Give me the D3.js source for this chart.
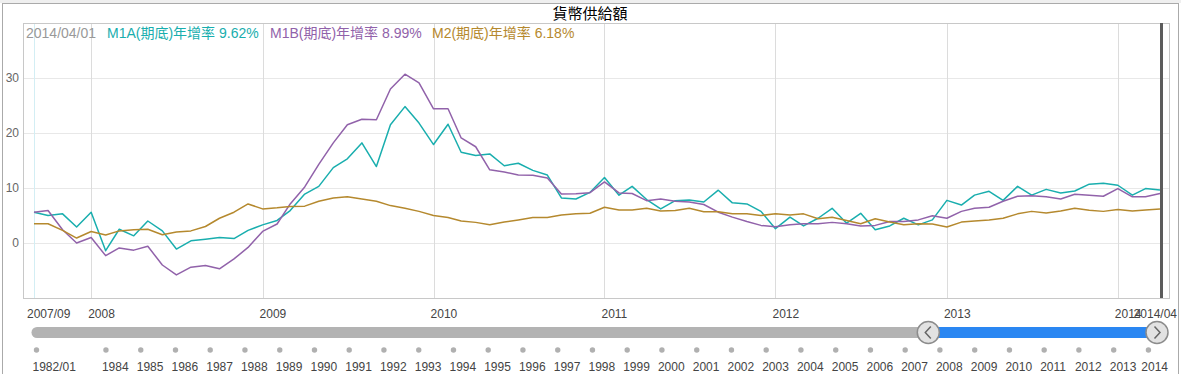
<!DOCTYPE html>
<html>
<head>
<meta charset="utf-8">
<script src="https://cdn.jsdelivr.net/npm/d3@7"></script>
<style>
body { margin: 0; background: #fff; }
text { font-family: "Liberation Sans", Arial, "Noto Sans CJK TC", sans-serif; }
</style>
</head>
<body>
<script>
// monthly series, 2007/09 .. 2014/04
var firstMonth = "2007-09-01";

var m1a = [5.6, 5.0, 5.3, 2.9,
    5.6, -1.4, 2.5, 1.3, 4.0, 2.2, -1.1, 0.4, 0.7, 1.0, 0.8, 2.3,
    3.3, 4.1, 5.9, 8.9, 10.3, 13.7, 15.3, 18.2, 13.9, 21.5, 24.8, 21.8,
    17.9, 21.6, 16.5, 15.9, 16.2, 14.05, 14.5, 13.2, 12.35, 8.2, 8.0, 9.2,
    11.9, 8.7, 10.3, 7.9, 6.2, 7.7, 7.8, 7.45, 9.6, 7.3, 7.1, 5.75,
    2.6, 4.7, 3.1, 4.5, 6.3, 3.6, 5.4, 2.4, 3.1, 4.5, 3.3, 4.2,
    7.75, 6.9, 8.7, 9.4, 7.75, 10.3, 8.7, 9.75, 9.1, 9.45, 10.7, 10.85,
    10.5, 8.7, 9.9, 9.62];

var m1b = [5.6, 5.9, 2.4, 0.0,
    1.0, -2.3, -0.9, -1.3, -0.6, -4.0, -5.8, -4.4, -4.1, -4.7, -2.9, -0.8,
    2.1, 3.45, 7.1, 10.2, 14.3, 18.2, 21.5, 22.5, 22.4, 28.0, 30.7, 29.1,
    24.4, 24.4, 19.1, 17.5, 13.3, 12.9, 12.35, 12.3, 11.8, 8.9, 8.95, 9.15,
    11.1, 9.1, 9.0, 7.7, 8.0, 7.6, 7.45, 7.0, 5.6, 4.7, 3.9, 3.2,
    2.95, 3.3, 3.5, 3.5, 3.75, 3.5, 3.1, 3.2, 3.9, 3.9, 4.2, 4.96,
    4.5, 5.75, 6.3, 6.5, 7.6, 8.5, 8.6, 8.4, 8.0, 8.85, 8.7, 8.5,
    9.9, 8.4, 8.4, 8.99];

var m2 = [3.5, 3.5, 2.3, 0.9,
    2.1, 1.45, 2.2, 2.4, 2.5, 1.5, 2.0, 2.2, 3.0, 4.5, 5.6, 7.1,
    6.2, 6.4, 6.65, 6.7, 7.6, 8.2, 8.4, 8.0, 7.6, 6.8, 6.3, 5.75,
    5.0, 4.65, 4.0, 3.75, 3.3, 3.8, 4.2, 4.65, 4.65, 5.1, 5.3, 5.4,
    6.5, 6.0, 6.0, 6.3, 5.8, 5.9, 6.3, 5.7, 5.7, 5.3, 5.3, 5.0,
    5.3, 5.1, 5.3, 4.4, 4.7, 4.1, 3.5, 4.4, 3.8, 3.3, 3.5, 3.45,
    2.9, 3.8, 4.0, 4.2, 4.5, 5.3, 5.75, 5.45, 5.8, 6.3, 5.95, 5.75,
    6.1, 5.8, 6.0, 6.18];

var seriesNames = ["M1A(期底)年增率", "M1B(期底)年增率", "M2(期底)年增率"];
var seriesColors = ["#19aeae", "#9162aa", "#b5892e"];

var yTicks = [0, 10, 20, 30];
var xTickDates = ["2007-09-01", "2008-01-01", "2009-01-01", "2010-01-01", "2011-01-01",
    "2012-01-01", "2013-01-01", "2014-01-01", "2014-04-01"];
var xTickLabels = ["2007/09", "2008", "2009", "2010", "2011", "2012", "2013", "2014", "2014/04"];

// navigator below the chart
var navStart = "1982-01-01", navEnd = "2014-04-01";
var navDates = ["1982-01-01", "1984-01-01", "1985-01-01", "1986-01-01", "1987-01-01", "1988-01-01",
    "1989-01-01", "1990-01-01", "1991-01-01", "1992-01-01", "1993-01-01", "1994-01-01",
    "1995-01-01", "1996-01-01", "1997-01-01", "1998-01-01", "1999-01-01", "2000-01-01",
    "2001-01-01", "2002-01-01", "2003-01-01", "2004-01-01", "2005-01-01", "2006-01-01",
    "2007-01-01", "2008-01-01", "2009-01-01", "2010-01-01", "2011-01-01", "2012-01-01",
    "2013-01-01", "2014-01-01"];
var navLabels = ["1982/01", "1984", "1985", "1986", "1987", "1988", "1989", "1990", "1991",
    "1992", "1993", "1994", "1995", "1996", "1997", "1998", "1999", "2000", "2001", "2002",
    "2003", "2004", "2005", "2006", "2007", "2008", "2009", "2010", "2011", "2012", "2013", "2014"];

var W = 1181, H = 374;
var plot = { left: 23, top: 23, right: 1169, bottom: 298 };

var parse = d3.timeParse("%Y-%m-%d");
var start = parse(firstMonth);
var dates = m1a.map(function(d, i) { return d3.timeMonth.offset(start, i); });
var allSeries = [m1a, m1b, m2];

var svg = d3.select("body").append("svg")
    .attr("width", W)
    .attr("height", H);

// outer frame
svg.append("rect").attr("x", 0).attr("y", 0).attr("width", W).attr("height", 3).attr("fill", "#efefef");
svg.append("rect")
    .attr("x", 2.5).attr("y", 3.5)
    .attr("width", 1176).attr("height", 380)
    .attr("fill", "none").attr("stroke", "#aaa");

svg.append("text")
    .attr("x", 590).attr("y", 19)
    .attr("text-anchor", "middle")
    .attr("font-size", 15)
    .attr("fill", "#000")
    .text("貨幣供給額");

var x = d3.scaleTime()
    .domain([start, dates[dates.length - 1]])
    .range([34, 1160]);

var y = d3.scaleLinear()
    .domain([-10, 40])
    .range([plot.bottom, plot.top]);

// horizontal grid
svg.append("g")
    .selectAll("line")
    .data(yTicks)
    .enter().append("line")
    .attr("x1", plot.left).attr("x2", plot.right)
    .attr("y1", function(d) { return Math.round(y(d)) + 0.5; })
    .attr("y2", function(d) { return Math.round(y(d)) + 0.5; })
    .attr("stroke", "#e8e8e8");

svg.append("g")
    .selectAll("text")
    .data(yTicks)
    .enter().append("text")
    .attr("x", 19)
    .attr("y", function(d) { return y(d); })
    .attr("dy", "0.35em")
    .attr("text-anchor", "end")
    .attr("font-size", 12)
    .attr("fill", "#666")
    .text(function(d) { return d; });

// vertical grid
var xTicks = xTickDates.map(parse);
svg.append("g")
    .selectAll("line")
    .data(xTicks.slice(0, xTicks.length - 1))
    .enter().append("line")
    .attr("x1", function(d) { return Math.round(x(d)) + 0.5; })
    .attr("x2", function(d) { return Math.round(x(d)) + 0.5; })
    .attr("y1", plot.top).attr("y2", plot.bottom)
    .attr("stroke", function(d, i) { return i == 0 ? "#d3eef4" : "#dcdcdc"; });

svg.append("rect")
    .attr("x", plot.left + 0.5).attr("y", plot.top + 0.5)
    .attr("width", plot.right - plot.left).attr("height", plot.bottom - plot.top)
    .attr("fill", "none").attr("stroke", "#c8c8c8");

var xLabels = svg.append("g")
    .selectAll("text")
    .data(xTicks)
    .enter().append("text")
    .attr("x", function(d, i) { return x(d) - 3; })
    .attr("y", 318)
    .attr("font-size", 12)
    .attr("fill", "#444")
    .text(function(d, i) { return xTickLabels[i]; });
// keep the first and last labels inside the frame
xLabels.filter(function(d, i) { return i == 0; }).attr("x", 27);
xLabels.filter(function(d, i) { return i == xTicks.length - 1; })
    .attr("x", 1177).attr("text-anchor", "end");

// lines
svg.append("clipPath").attr("id", "clip")
    .append("rect")
    .attr("x", plot.left).attr("y", plot.top)
    .attr("width", plot.right - plot.left).attr("height", plot.bottom - plot.top);

var line = d3.line()
    .x(function(d, i) { return x(dates[i]); })
    .y(function(d) { return y(d); });

svg.append("g")
    .attr("clip-path", "url(#clip)")
    .selectAll("path")
    .data(allSeries)
    .enter().append("path")
    .attr("d", line)
    .attr("fill", "none")
    .attr("stroke", function(d, i) { return seriesColors[i]; })
    .attr("stroke-width", 1.5)
    .attr("stroke-linejoin", "round");

// cursor at the latest month
svg.append("line")
    .attr("x1", x(dates[dates.length - 1]) + 1.5)
    .attr("x2", x(dates[dates.length - 1]) + 1.5)
    .attr("y1", plot.top).attr("y2", plot.bottom)
    .attr("stroke", "#5c5c5c")
    .attr("stroke-width", 3);

// legend line
var last = dates.length - 1;
var legendX = [26, 107, 270, 432];
svg.append("text")
    .attr("x", legendX[0]).attr("y", 38)
    .attr("font-size", 14)
    .attr("fill", "#999")
    .text(d3.timeFormat("%Y/%m/%d")(dates[last]));
svg.append("g")
    .selectAll("text")
    .data(allSeries)
    .enter().append("text")
    .attr("x", function(d, i) { return legendX[i + 1]; })
    .attr("y", 38)
    .attr("font-size", 14)
    .attr("fill", function(d, i) { return seriesColors[i]; })
    .text(function(d, i) { return seriesNames[i] + " " + d[last].toFixed(2) + "%"; });

// navigator
var nav = d3.scaleTime()
    .domain([parse(navStart), parse(navEnd)])
    .range([36.5, 1157]);

var hL = nav(start), hR = nav(dates[last]);
svg.append("rect")
    .attr("x", 31.5).attr("y", 327)
    .attr("width", hL - 31.5).attr("height", 11)
    .attr("rx", 5.5)
    .attr("fill", "#b3b3b3");
svg.append("rect")
    .attr("x", hL).attr("y", 327)
    .attr("width", hR - hL).attr("height", 11)
    .attr("fill", "#2a87f2");

var handles = svg.append("g")
    .selectAll("g")
    .data([hL, hR])
    .enter().append("g")
    .attr("transform", function(d) { return "translate(" + d + ",332.5)"; });
handles.append("circle")
    .attr("r", 11)
    .attr("fill", "#e2e2e2")
    .attr("stroke", "#8c8c8c")
    .attr("stroke-width", 1.5);
handles.append("path")
    .attr("d", function(d, i) { return i == 0 ? "M2.5,-6L-3,0L2.5,6" : "M-2.5,-6L3,0L-2.5,6"; })
    .attr("fill", "none")
    .attr("stroke", "#666")
    .attr("stroke-width", 1.5);

var navTicks = navDates.map(parse);
svg.append("g")
    .selectAll("circle")
    .data(navTicks)
    .enter().append("circle")
    .attr("cx", function(d) { return nav(d); })
    .attr("cy", 350)
    .attr("r", 2.7)
    .attr("fill", "#b0b0b0");

svg.append("g")
    .selectAll("text")
    .data(navTicks)
    .enter().append("text")
    .attr("x", function(d) { return nav(d) - 4; })
    .attr("y", 371)
    .attr("font-size", 12)
    .attr("fill", "#444")
    .text(function(d, i) { return navLabels[i]; })
    .each(function() {
        var len = this.getComputedTextLength();
        var xx = +d3.select(this).attr("x");
        if (xx + len > 1168) d3.select(this).attr("x", 1168 - len);
    });
</script>
</body>
</html>
